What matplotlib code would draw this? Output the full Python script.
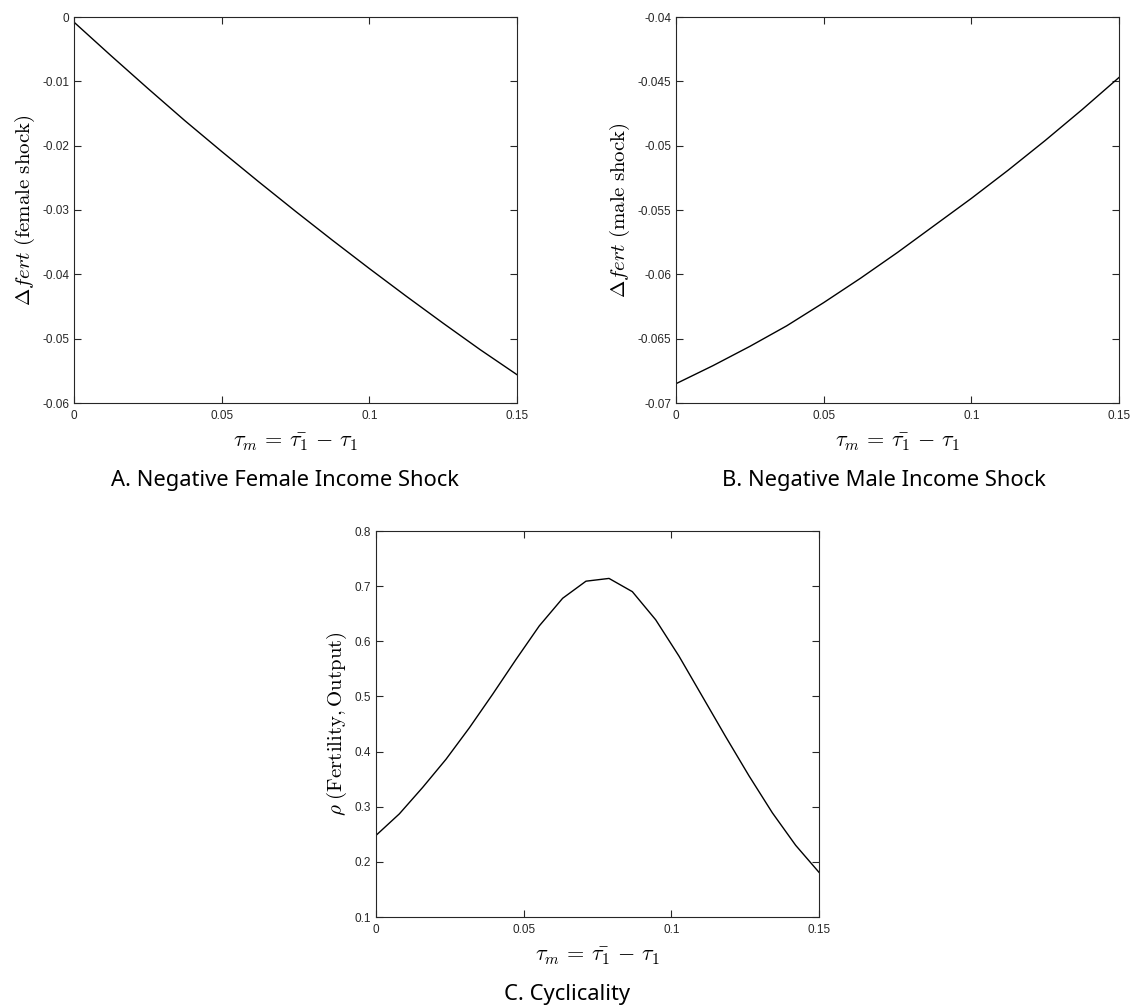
import numpy as np
import matplotlib
matplotlib.use('Agg')
import matplotlib.pyplot as plt
from matplotlib.ticker import FuncFormatter

plt.rcParams['mathtext.fontset'] = 'cm'
plt.rcParams['axes.unicode_minus'] = False

# panel A: negative female income shock
tau_a = [0, 0.0125, 0.025, 0.0375, 0.05, 0.0625, 0.075, 0.0875, 0.1, 0.1125, 0.125, 0.1375, 0.15]
dfert_female = [-0.0008, -0.0060, -0.0111, -0.0161, -0.0209, -0.0256, -0.0302, -0.0347,
                -0.0391, -0.0434, -0.0476, -0.0517, -0.0556]

# panel B: negative male income shock
tau_b = [0, 0.0125, 0.025, 0.0375, 0.05, 0.0625, 0.075, 0.0875, 0.1, 0.1125, 0.125, 0.1375, 0.15]
dfert_male = [-0.0685, -0.0671, -0.0656, -0.0640, -0.0622, -0.0603, -0.0583, -0.0562,
              -0.0541, -0.0519, -0.0496, -0.0472, -0.0447]

# panel C: cyclicality, 20 grid points
tau_c = [0, 0.0079, 0.0158, 0.0237, 0.0316, 0.0395, 0.0474, 0.0553, 0.0632, 0.0711,
         0.0789, 0.0868, 0.0947, 0.1026, 0.1105, 0.1184, 0.1263, 0.1342, 0.1421, 0.15]
rho = [0.248, 0.287, 0.335, 0.386, 0.443, 0.504, 0.567, 0.628, 0.678, 0.709,
       0.714, 0.690, 0.639, 0.573, 0.500, 0.427, 0.356, 0.289, 0.230, 0.181]

xticks = [0, 0.05, 0.1, 0.15]
xlabel = r'$\tau_m \,=\, \bar{\tau_1} \,-\, \tau_1$'

W, H = 1131, 1005
fig = plt.figure(figsize=(W / 100, H / 100), dpi=100)


def px_axes(left, top, right, bottom):
    return fig.add_axes([left / W, 1 - bottom / H, (right - left) / W, (bottom - top) / H])


def style(ax, ylim, yticks, ylabel, title, title_x):
    ax.set_xlim(0, 0.15)
    ax.set_ylim(*ylim)
    ax.set_xticks(xticks)
    ax.set_yticks(yticks)
    fmt = FuncFormatter(lambda v, p: ('%g' % round(v, 4)))
    ax.xaxis.set_major_formatter(fmt)
    ax.yaxis.set_major_formatter(fmt)
    ax.tick_params(direction='in', top=True, right=True, length=5, width=0.8,
                   colors='#262626', labelsize=8.5, labelfontfamily='Liberation Sans')
    ax.tick_params(axis='x', pad=5)
    ax.tick_params(axis='y', pad=3.5)
    for s in ax.spines.values():
        s.set_color('#262626')
        s.set_linewidth(0.8)
    ax.set_xlabel(xlabel, fontsize=16, labelpad=7)
    ax.set_ylabel(ylabel, fontsize=15, labelpad=4)
    bb = ax.get_position()
    fig.text(title_x / W, bb.y0 - 77 / H, title, ha='center', va='center',
             fontsize=15.8, family='Noto Sans')


axA = px_axes(74, 17, 517, 403)
axA.plot(tau_a, dfert_female, color='black', lw=1.0)
style(axA, (-0.06, 0), np.arange(-0.06, 0.001, 0.01),
      r'$\Delta fert\ \mathrm{(female\ shock)}$', 'A. Negative Female Income Shock', 285)

axB = px_axes(676, 17, 1119, 403)
axB.plot(tau_b, dfert_male, color='black', lw=1.0)
style(axB, (-0.07, -0.04), np.arange(-0.07, -0.0399, 0.005),
      r'$\Delta fert\ \mathrm{(male\ shock)}$', 'B. Negative Male Income Shock', 884)

axC = px_axes(376, 531, 819, 917)
axC.plot(tau_c, rho, color='black', lw=1.0)
style(axC, (0.1, 0.8), np.arange(0.1, 0.801, 0.1),
      r'$\rho\ \mathrm{(Fertility, Output)}$', 'C. Cyclicality', 567)

fig.savefig('out.png', dpi=100)
